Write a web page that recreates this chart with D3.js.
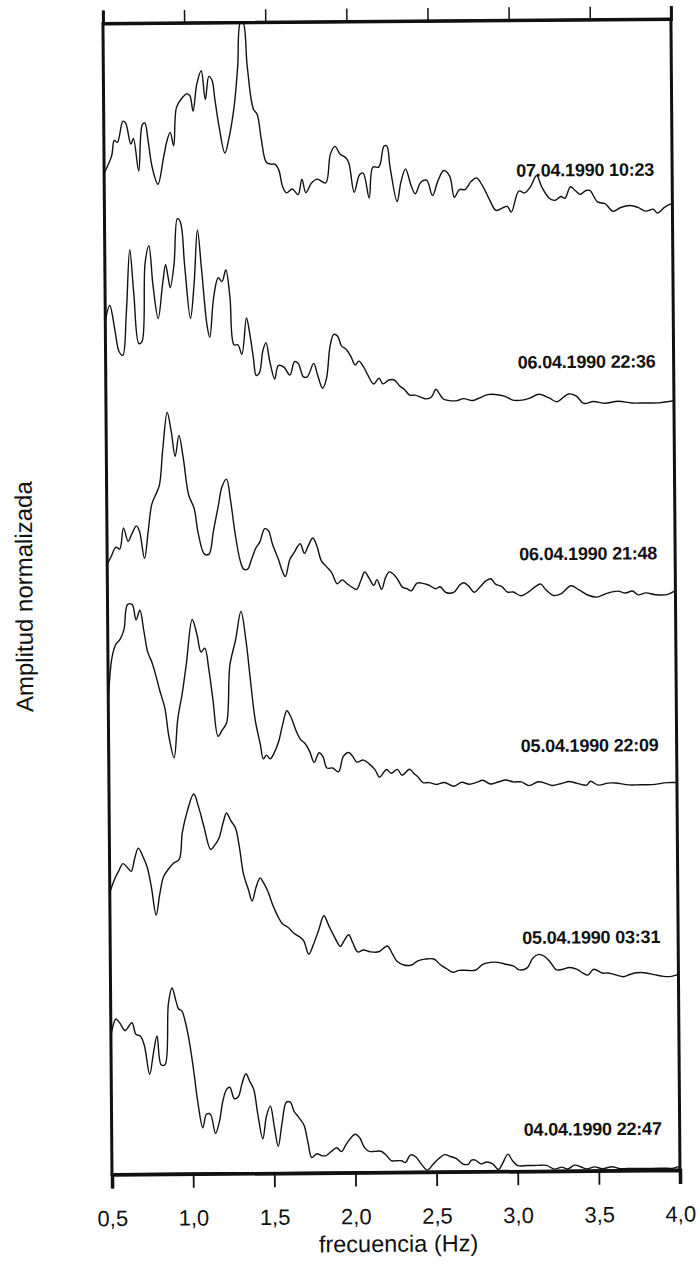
<!DOCTYPE html>
<html><head><meta charset="utf-8">
<script src="https://cdn.jsdelivr.net/npm/d3@7"></script>
<style>body{margin:0;background:#fff}text{font-family:"Liberation Sans",Arial,Helvetica,sans-serif}</style>
</head><body>
<svg id="c" width="700" height="1266"></svg>
<script>
// tick values / labels
const xTicks = [0.5,1.0,1.5,2.0,2.5,3.0,3.5,4.0];
const xTickLabels = ["0,5","1,0","1,5","2,0","2,5","3,0","3,5","4,0"];
const xTitle = "frecuencia (Hz)";
const yTitle = "Amplitud normalizada";
// series labels, top to bottom
const seriesLabels = ["07.04.1990 10:23","06.04.1990 22:36","06.04.1990 21:48","05.04.1990 22:09","05.04.1990 03:31","04.04.1990 22:47"];

// [frecuencia Hz, amplitud normalizada] per record
const s070410 = [[0.5,0.22],[0.547,0.31],[0.564,0.39],[0.583,0.38],[0.618,0.49],[0.635,0.48],[0.666,0.37],[0.682,0.40],[0.713,0.23],[0.737,0.47],[0.753,0.48],[0.772,0.39],[0.796,0.25],[0.831,0.16],[0.867,0.30],[0.890,0.39],[0.909,0.43],[0.930,0.36],[0.949,0.56],[0.985,0.61],[1.013,0.63],[1.032,0.62],[1.051,0.54],[1.075,0.68],[1.103,0.75],[1.127,0.60],[1.150,0.72],[1.169,0.70],[1.186,0.60],[1.210,0.46],[1.245,0.32],[1.269,0.39],[1.304,0.56],[1.328,0.77],[1.347,1.0],[1.363,1.0],[1.387,0.77],[1.422,0.55],[1.446,0.52],[1.470,0.39],[1.500,0.27],[1.529,0.26],[1.552,0.26],[1.576,0.23],[1.600,0.14],[1.623,0.11],[1.659,0.13],[1.694,0.10],[1.718,0.18],[1.742,0.11],[1.777,0.16],[1.813,0.18],[1.865,0.16],[1.895,0.31],[1.924,0.35],[1.954,0.31],[1.990,0.29],[2.009,0.26],[2.040,0.11],[2.073,0.20],[2.096,0.21],[2.132,0.08],[2.156,0.24],[2.191,0.24],[2.203,0.26],[2.226,0.35],[2.243,0.35],[2.262,0.24],[2.304,0.06],[2.328,0.16],[2.357,0.23],[2.392,0.14],[2.416,0.10],[2.451,0.16],[2.487,0.17],[2.522,0.09],[2.558,0.17],[2.593,0.22],[2.629,0.19],[2.657,0.08],[2.688,0.12],[2.723,0.12],[2.759,0.16],[2.794,0.18],[2.830,0.14],[2.877,0.06],[2.912,0.01],[2.948,0.02],[2.983,0.03],[3.007,0.00],[3.054,0.11],[3.090,0.10],[3.125,0.13],[3.165,0.19],[3.196,0.13],[3.243,0.07],[3.279,0.06],[3.314,0.08],[3.338,0.07],[3.373,0.13],[3.402,0.11],[3.433,0.09],[3.468,0.11],[3.492,0.11],[3.539,0.05],[3.586,0.04],[3.634,0.00],[3.681,0.02],[3.740,0.03],[3.787,0.02],[3.835,0.00],[3.882,0.01],[3.906,-0.01],[3.953,0.02],[4.0,0.04]];

const s060422 = [[0.5,0.45],[0.528,0.53],[0.559,0.40],[0.583,0.29],[0.606,0.27],[0.630,0.49],[0.654,0.82],[0.677,0.59],[0.706,0.33],[0.725,0.34],[0.748,0.75],[0.772,0.84],[0.796,0.63],[0.826,0.46],[0.855,0.64],[0.874,0.74],[0.890,0.67],[0.902,0.62],[0.926,0.74],[0.949,0.98],[0.968,0.96],[0.992,0.73],[1.025,0.46],[1.049,0.64],[1.072,0.92],[1.096,0.71],[1.127,0.42],[1.143,0.36],[1.169,0.57],[1.198,0.67],[1.221,0.65],[1.245,0.71],[1.269,0.57],[1.292,0.32],[1.316,0.32],[1.340,0.27],[1.370,0.46],[1.387,0.39],[1.411,0.25],[1.427,0.16],[1.446,0.17],[1.470,0.29],[1.489,0.33],[1.512,0.23],[1.541,0.14],[1.564,0.21],[1.600,0.20],[1.635,0.16],[1.664,0.23],[1.687,0.22],[1.718,0.15],[1.742,0.15],[1.782,0.22],[1.805,0.16],[1.836,0.09],[1.860,0.14],[1.884,0.31],[1.907,0.37],[1.931,0.36],[1.954,0.31],[1.985,0.29],[2.014,0.25],[2.037,0.21],[2.061,0.23],[2.089,0.20],[2.113,0.16],[2.151,0.11],[2.184,0.14],[2.208,0.11],[2.245,0.13],[2.278,0.13],[2.309,0.10],[2.340,0.08],[2.373,0.05],[2.404,0.05],[2.439,0.04],[2.475,0.03],[2.506,0.04],[2.534,0.08],[2.553,0.06],[2.577,0.03],[2.617,0.02],[2.664,0.02],[2.704,0.03],[2.759,0.02],[2.794,0.03],[2.853,0.05],[2.900,0.05],[2.960,0.04],[3.007,0.02],[3.066,0.02],[3.113,0.03],[3.168,0.05],[3.232,0.03],[3.279,0.01],[3.350,0.05],[3.397,0.04],[3.444,0.00],[3.504,0.01],[3.575,0.00],[3.657,0.01],[3.740,0.00],[3.823,0.00],[3.906,0.00],[4.0,0.01]];

const s060421 = [[0.5,0.18],[0.524,0.22],[0.555,0.27],[0.578,0.26],[0.602,0.37],[0.630,0.30],[0.654,0.34],[0.682,0.38],[0.701,0.35],[0.730,0.21],[0.754,0.35],[0.777,0.49],[0.801,0.54],[0.825,0.59],[0.848,0.78],[0.877,0.97],[0.901,0.87],[0.924,0.74],[0.948,0.85],[0.974,0.73],[1.005,0.54],[1.038,0.47],[1.062,0.34],[1.100,0.23],[1.128,0.23],[1.156,0.35],[1.187,0.48],[1.211,0.58],[1.239,0.62],[1.263,0.51],[1.289,0.34],[1.318,0.20],[1.341,0.15],[1.365,0.15],[1.389,0.20],[1.417,0.26],[1.441,0.29],[1.472,0.36],[1.495,0.35],[1.519,0.28],[1.555,0.20],[1.578,0.14],[1.597,0.11],[1.626,0.20],[1.649,0.23],[1.690,0.28],[1.716,0.23],[1.740,0.27],[1.768,0.31],[1.792,0.27],[1.820,0.19],[1.851,0.16],[1.882,0.13],[1.917,0.07],[1.946,0.09],[1.977,0.07],[2.010,0.05],[2.036,0.04],[2.064,0.09],[2.086,0.13],[2.112,0.10],[2.142,0.06],[2.161,0.09],[2.190,0.04],[2.214,0.10],[2.237,0.13],[2.261,0.12],[2.289,0.09],[2.318,0.05],[2.349,0.04],[2.372,0.03],[2.408,0.07],[2.436,0.07],[2.479,0.06],[2.522,0.04],[2.550,0.05],[2.586,0.02],[2.633,0.02],[2.673,0.06],[2.697,0.07],[2.728,0.05],[2.759,0.02],[2.799,0.05],[2.834,0.08],[2.863,0.09],[2.894,0.06],[2.929,0.05],[2.965,0.02],[3.000,0.02],[3.048,0.00],[3.095,0.02],[3.142,0.05],[3.171,0.06],[3.202,0.03],[3.249,0.00],[3.297,0.01],[3.356,0.05],[3.403,0.03],[3.463,0.00],[3.517,-0.01],[3.581,0.01],[3.645,0.02],[3.692,0.01],[3.735,0.02],[3.771,0.00],[3.818,0.01],[3.877,0.00],[3.948,0.00],[4.0,0.02]];

const s050422 = [[0.5,0.47],[0.524,0.69],[0.547,0.76],[0.576,0.79],[0.600,0.84],[0.623,0.97],[0.652,0.97],[0.675,0.89],[0.699,0.94],[0.723,0.83],[0.746,0.72],[0.770,0.67],[0.794,0.60],[0.818,0.52],[0.848,0.43],[0.872,0.28],[0.903,0.17],[0.927,0.37],[0.955,0.50],[0.983,0.66],[1.021,0.89],[1.050,0.81],[1.074,0.72],[1.097,0.74],[1.121,0.63],[1.145,0.47],[1.175,0.28],[1.199,0.31],[1.228,0.35],[1.251,0.65],[1.287,0.78],[1.322,0.93],[1.351,0.78],[1.377,0.57],[1.405,0.36],[1.434,0.24],[1.453,0.16],[1.472,0.18],[1.495,0.16],[1.519,0.19],[1.548,0.25],[1.571,0.33],[1.600,0.41],[1.623,0.38],[1.654,0.31],[1.683,0.26],[1.709,0.24],[1.737,0.20],[1.766,0.14],[1.796,0.19],[1.820,0.17],[1.844,0.11],[1.879,0.11],[1.915,0.09],[1.946,0.17],[1.979,0.19],[2.003,0.17],[2.029,0.14],[2.069,0.15],[2.104,0.13],[2.140,0.10],[2.168,0.06],[2.211,0.10],[2.240,0.08],[2.278,0.10],[2.306,0.07],[2.353,0.10],[2.377,0.08],[2.405,0.06],[2.436,0.03],[2.472,0.03],[2.519,0.02],[2.567,0.03],[2.626,0.01],[2.673,0.03],[2.721,0.02],[2.768,0.03],[2.804,0.04],[2.851,0.02],[2.898,0.03],[2.946,0.04],[2.993,0.03],[3.041,0.03],[3.088,0.01],[3.147,0.03],[3.195,0.02],[3.230,0.01],[3.289,0.02],[3.337,0.03],[3.384,0.02],[3.444,0.01],[3.467,0.03],[3.515,0.01],[3.574,0.02],[3.621,0.02],[3.704,0.01],[3.775,0.01],[3.846,0.01],[3.941,0.02],[4.0,0.02]];

const s050403 = [[0.5,0.47],[0.531,0.54],[0.555,0.58],[0.583,0.62],[0.609,0.60],[0.633,0.58],[0.656,0.65],[0.678,0.70],[0.709,0.65],[0.732,0.60],[0.756,0.50],[0.785,0.35],[0.808,0.46],[0.832,0.55],[0.863,0.59],[0.894,0.62],[0.929,0.64],[0.950,0.78],[0.981,0.89],[1.022,0.98],[1.052,0.91],[1.083,0.81],[1.124,0.69],[1.147,0.71],[1.176,0.75],[1.202,0.83],[1.223,0.88],[1.249,0.84],[1.278,0.80],[1.301,0.70],[1.325,0.56],[1.354,0.48],[1.377,0.42],[1.401,0.49],[1.427,0.54],[1.444,0.52],[1.474,0.47],[1.503,0.40],[1.534,0.34],[1.562,0.30],[1.598,0.28],[1.633,0.25],[1.669,0.23],[1.693,0.21],[1.723,0.14],[1.752,0.19],[1.787,0.27],[1.818,0.34],[1.847,0.29],[1.882,0.23],[1.918,0.18],[1.942,0.21],[1.970,0.24],[1.994,0.20],[2.025,0.15],[2.060,0.16],[2.103,0.15],[2.155,0.15],[2.207,0.18],[2.238,0.14],[2.266,0.10],[2.309,0.08],[2.356,0.08],[2.392,0.10],[2.439,0.11],[2.494,0.11],[2.534,0.08],[2.570,0.06],[2.610,0.04],[2.648,0.05],[2.688,0.05],[2.748,0.05],[2.795,0.08],[2.843,0.09],[2.890,0.09],[2.937,0.08],[2.985,0.07],[3.020,0.05],[3.068,0.06],[3.103,0.11],[3.139,0.13],[3.174,0.12],[3.210,0.09],[3.246,0.05],[3.281,0.05],[3.329,0.06],[3.376,0.05],[3.412,0.03],[3.442,0.02],[3.478,0.05],[3.530,0.03],[3.566,0.03],[3.613,0.02],[3.661,0.01],[3.696,0.02],[3.739,0.03],[3.791,0.03],[3.850,0.02],[3.909,0.01],[3.957,0.01],[4.0,0.02]];

const s040422 = [[0.5,0.72],[0.512,0.77],[0.531,0.81],[0.555,0.79],[0.588,0.75],[0.630,0.79],[0.654,0.73],[0.682,0.72],[0.706,0.67],[0.737,0.52],[0.761,0.63],[0.784,0.72],[0.808,0.57],[0.832,0.57],[0.856,0.89],[0.879,0.97],[0.903,0.90],[0.919,0.86],[0.938,0.85],[0.957,0.80],[0.981,0.70],[1.005,0.56],[1.033,0.37],[1.062,0.24],[1.085,0.31],[1.109,0.31],[1.140,0.21],[1.164,0.27],[1.187,0.38],[1.211,0.44],[1.230,0.45],[1.258,0.39],[1.282,0.40],[1.306,0.47],[1.330,0.52],[1.353,0.48],[1.377,0.44],[1.401,0.31],[1.431,0.18],[1.455,0.30],[1.479,0.35],[1.503,0.24],[1.526,0.14],[1.550,0.26],[1.578,0.37],[1.602,0.37],[1.626,0.32],[1.654,0.29],[1.685,0.25],[1.709,0.16],[1.732,0.08],[1.763,0.10],[1.792,0.09],[1.820,0.09],[1.851,0.11],[1.886,0.13],[1.915,0.11],[1.946,0.15],[2.000,0.20],[2.029,0.18],[2.057,0.13],[2.088,0.11],[2.123,0.11],[2.159,0.11],[2.190,0.09],[2.223,0.06],[2.254,0.06],[2.285,0.06],[2.308,0.05],[2.341,0.09],[2.372,0.08],[2.408,0.04],[2.443,0.01],[2.479,0.04],[2.515,0.07],[2.550,0.09],[2.586,0.08],[2.621,0.07],[2.664,0.04],[2.697,0.04],[2.716,0.06],[2.740,0.06],[2.775,0.04],[2.811,0.05],[2.846,0.04],[2.882,0.01],[2.906,0.04],[2.941,0.09],[2.965,0.06],[3.000,0.03],[3.060,0.03],[3.119,0.03],[3.178,0.03],[3.226,0.01],[3.273,0.02],[3.308,0.01],[3.351,0.03],[3.391,0.02],[3.427,0.01],[3.474,0.02],[3.522,0.01],[3.581,0.02],[3.628,0.01],[3.676,0.01],[3.735,0.01],[3.782,0.01],[3.830,0.01],[3.901,0.01],[3.960,0.01],[4.0,0.02]];

const seriesData = [s070410, s060422, s060421, s050422, s050403, s040422];

// ---------- drawing ----------
const svg = d3.select("#c");
const x = d3.scaleLinear().domain([0.5, 4.0]).range([112, 680]);
const y = d3.scaleLinear().domain([0, 6]).range([1174.5, 23.5]);
const nS = seriesData.length;

// whole scanned figure is slightly tilted
const g = svg.append("g").attr("transform", "rotate(-0.45,112,1174.5)");

const line = d3.line().x(d => x(d[0])).y(d => d[1]).curve(d3.curveCatmullRom.alpha(0.5));

seriesData.forEach((s, i) => {
  const k = nS - 1 - i;
  g.append("path")
    .attr("d", line(s.map(d => [d[0], y(k + d[1])])))
    .attr("fill", "none")
    .attr("stroke", "#111")
    .attr("stroke-width", 1.4)
    .attr("stroke-linejoin", "round");
  g.append("text")
    .attr("x", x(4.0) - 18)
    .attr("y", y(k + 0.185))
    .attr("text-anchor", "end")
    .attr("font-size", 18)
    .attr("font-weight", "bold")
    .attr("letter-spacing", -0.2)
    .attr("fill", "#111")
    .text(seriesLabels[i]);
});

// frame
g.append("rect")
  .attr("x", x(0.5)).attr("y", y(6))
  .attr("width", x(4.0) - x(0.5)).attr("height", y(0) - y(6))
  .attr("fill", "none").attr("stroke", "#111").attr("stroke-width", 3);

// bottom axis
const ax = g.append("g").attr("transform", `translate(0,${y(0)})`)
  .call(d3.axisBottom(x).tickValues(xTicks).tickSize(14).tickPadding(22)
    .tickFormat((d, i) => xTickLabels[i]));
ax.select(".domain").attr("stroke", "#111").attr("stroke-width", 3.5);
ax.selectAll(".tick line").attr("stroke", "#111").attr("stroke-width", 1.8);
ax.selectAll(".tick text").attr("font-size", 22).attr("fill", "#111")
  .attr("font-family", '"Liberation Sans",Arial,sans-serif');

// top axis (ticks only)
const at = g.append("g").attr("transform", `translate(0,${y(6)})`)
  .call(d3.axisTop(x).tickValues(xTicks).tickSize(13).tickFormat(""));
at.select(".domain").attr("stroke", "#111").attr("stroke-width", 3);
at.selectAll(".tick line").attr("stroke", "#111").attr("stroke-width", 1.5);

// axis titles
g.append("text")
  .attr("x", (x(0.5) + x(4.0)) / 2 + 2).attr("y", 1254)
  .attr("text-anchor", "middle").attr("font-size", 23.5).attr("fill", "#111")
  .text(xTitle);
g.append("text")
  .attr("transform", "translate(37,596) rotate(-90)")
  .attr("text-anchor", "middle").attr("font-size", 24).attr("fill", "#111")
  .text(yTitle);
</script>
</body></html>
